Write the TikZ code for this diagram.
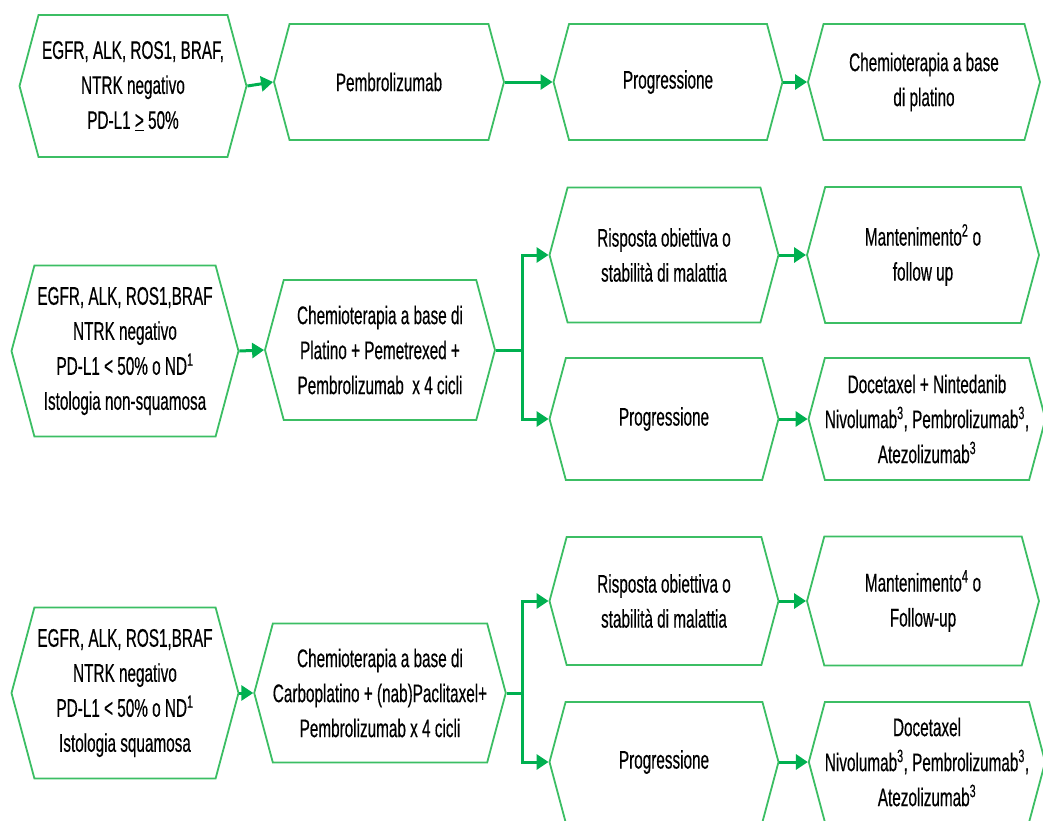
\documentclass[tikz,border=0pt]{standalone}
\usepackage{fontspec}
\setmainfont[FakeStretch=0.6,FakeBold=0.4]{Liberation Sans}
\usetikzlibrary{shapes.symbols,arrows.meta}
\definecolor{boxgreen}{HTML}{3CBE64}
\definecolor{arrowgreen}{HTML}{00B050}
\begin{document}
\begin{tikzpicture}[x=1pt,y=-1pt,
  every node/.style={font=\fontsize{25.5}{35}\selectfont},
  hexa/.style={signal,signal to=west and east,signal pointer angle=150,
    draw=boxgreen,line width=1.8pt,align=center,inner sep=0pt},
  colA/.style={hexa,minimum width=227pt},
  colB/.style={hexa,minimum width=230pt},
  colC/.style={hexa,minimum width=229pt},
  colD/.style={hexa,minimum width=232pt},
  link/.style={draw=arrowgreen,line width=3pt},
  arr/.style={link,-{Triangle[length=12pt,width=15pt]}}]
\useasboundingbox (0,0) rectangle (1043,820);
\clip (0,0) rectangle (1043,820);
% first line: PD-L1 high
\node[colA,minimum height=142pt] (a1) at (133,86)
  {EGFR, ALK, ROS1, BRAF,\\NTRK negativo\\PD-L1 \underline{>} 50\%};
\node[colB,minimum height=116pt] (b1) at (389,82) {Pembrolizumab};
\node[colC,minimum height=116pt] (c1) at (668,82) {Progressione};
\node[colD,minimum height=116pt] (d1) at (924,82) {Chemioterapia a base\\di platino};
\draw[arr] (a1.east) -- (b1.west);
\draw[arr] (b1.east) -- (c1.west);
\draw[arr] (c1.east) -- (d1.west);
% second line: non-squamosa
\node[colA,minimum height=171pt] (a2) at (125,351)
  {EGFR, ALK, ROS1,BRAF\\NTRK negativo\\PD-L1 < 50\% o ND\textsuperscript{1}\\Istologia non-squamosa};
\node[colB,minimum height=140pt] (b2) at (380,350)
  {Chemioterapia a base di\\Platino + Pemetrexed +\\Pembrolizumab\ \ x 4 cicli};
\node[colC,minimum height=135pt] (c2) at (664,255) {Risposta obiettiva o\\stabilità di malattia};
\node[colD,minimum height=136pt] (d2) at (923,255) {Mantenimento\textsuperscript{2} o\\follow up};
\node[colC,minimum height=122pt] (c3) at (664,419) {Progressione};
\node[colD,minimum height=122pt] (d3) at (927,419)
  {Docetaxel + Nintedanib\\Nivolumab\textsuperscript{3}, Pembrolizumab\textsuperscript{3},\\Atezolizumab\textsuperscript{3}};
\coordinate (j2) at (522,350);
\draw[arr] (a2.east) -- (b2.west);
\draw[link] (b2.east) -- (j2);
\draw[arr] (j2) |- (c2.west);
\draw[arr] (j2) |- (c3.west);
\draw[arr] (c2.east) -- (d2.west);
\draw[arr] (c3.east) -- (d3.west);
% third line: squamosa
\node[colA,minimum height=171pt] (a3) at (125,693)
  {EGFR, ALK, ROS1,BRAF\\NTRK negativo\\PD-L1 < 50\% o ND\textsuperscript{1}\\Istologia squamosa};
\node[colB,minimum height=139pt] (b3) at (380,693)
  {Chemioterapia a base di\\Carboplatino + (nab)Paclitaxel+\\Pembrolizumab x 4 cicli};
\node[colC,minimum height=128pt] (c4) at (664,601) {Risposta obiettiva o\\stabilità di malattia};
\node[colD,minimum height=129pt] (d4) at (923,601) {Mantenimento\textsuperscript{4} o\\Follow-up};
\node[colC,minimum height=120pt] (c5) at (664,762) {Progressione};
\node[colD,minimum height=120pt] (d5) at (927,762)
  {Docetaxel\\Nivolumab\textsuperscript{3}, Pembrolizumab\textsuperscript{3},\\Atezolizumab\textsuperscript{3}};
\coordinate (j3) at (522,693);
\draw[arr] (a3.east) -- (b3.west);
\draw[link] (b3.east) -- (j3);
\draw[arr] (j3) |- (c4.west);
\draw[arr] (j3) |- (c5.west);
\draw[arr] (c4.east) -- (d4.west);
\draw[arr] (c5.east) -- (d5.west);
\end{tikzpicture}
\end{document}
